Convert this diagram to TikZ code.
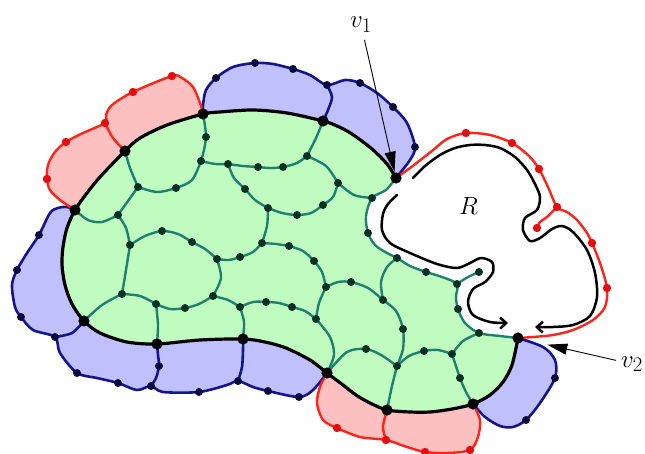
\documentclass[tikz,border=0pt]{standalone}
\usetikzlibrary{arrows.meta}
\definecolor{facegreen}{RGB}{192,252,192}
\definecolor{faceblue}{RGB}{192,192,252}
\definecolor{facepink}{RGB}{252,192,192}
\definecolor{edgeteal}{RGB}{32,128,112}
\definecolor{dotteal}{RGB}{8,48,36}
\definecolor{edgenavy}{RGB}{20,20,140}
\definecolor{dotnavy}{RGB}{10,10,60}
\definecolor{edgered}{RGB}{255,35,25}
\definecolor{dotred}{RGB}{225,15,15}
\tikzset{
  tealedge/.style={draw=edgeteal, line width=2.4pt, line join=round, line cap=round},
  outerblack/.style={draw=black, line width=3.2pt, line join=round},
  navyline/.style={draw=edgenavy, line width=2.6pt, line join=round, line cap=round},
  redline/.style={draw=edgered, line width=2.4pt, line join=round, line cap=round},
  rcurve/.style={draw=black, line width=2.5pt, line cap=round, line join=round,
    -{Straight Barb[length=6pt,width=11pt]}},
  pointer/.style={draw=black, line width=0.9pt, -{Triangle[length=20pt,width=11pt]}},
  lbl/.style={inner sep=0pt, anchor=base west, font=\fontsize{24.88}{30}\selectfont},
}
\begin{document}
\begin{tikzpicture}[x=1pt,y=-1pt]
\useasboundingbox (0,0) rectangle (645,454);

% ---- vertices on the black cycle
\coordinate (vA) at (203,114);  \coordinate (vB) at (323,121);
\coordinate (v1) at (396,178);  \coordinate (vC) at (125,151);
\coordinate (vD) at (75,210);   \coordinate (vE) at (84,321);
\coordinate (vF) at (157,344);  \coordinate (vG) at (243,339);
\coordinate (vH) at (327,373);  \coordinate (vI) at (387,410);
\coordinate (vJ) at (473,404);  \coordinate (v2) at (518,338);

% ---- inner vertices
\coordinate (t1) at (206,137);  \coordinate (t2) at (201,161);
\coordinate (t3) at (176,188);  \coordinate (t4) at (138,187);
\coordinate (t5) at (228,164);  \coordinate (t6) at (258,167);
\coordinate (t7) at (283,167);  \coordinate (t8) at (307,156);
\coordinate (t9) at (245,189);  \coordinate (t10) at (268,208);
\coordinate (t11) at (297,215); \coordinate (t12) at (323,205);
\coordinate (t13) at (338,183); \coordinate (t14) at (372,198);
\coordinate (t15) at (368,233); \coordinate (t16) at (397,258);
\coordinate (t17) at (118,215); \coordinate (t18) at (130,245);
\coordinate (t19) at (162,231); \coordinate (t20) at (192,242);
\coordinate (t21) at (217,259); \coordinate (t22) at (240,257);
\coordinate (t23) at (262,243); \coordinate (t24) at (289,246);
\coordinate (t25) at (314,261); \coordinate (t26) at (326,287);
\coordinate (t27) at (351,282); \coordinate (t28) at (383,300);
\coordinate (t29) at (122,294); \coordinate (t30) at (156,304);
\coordinate (t31) at (185,308); \coordinate (t32) at (213,296);
\coordinate (t33) at (240,307); \coordinate (t34) at (266,302);
\coordinate (t35) at (292,307); \coordinate (t36) at (316,319);
\coordinate (t37) at (366,349); \coordinate (t38) at (397,366);
\coordinate (t39) at (403,329); \coordinate (t40) at (424,351);
\coordinate (t41) at (452,354); \coordinate (t42) at (460,378);
\coordinate (t43) at (479,333); \coordinate (t44) at (458,309);
\coordinate (t45) at (457,284); \coordinate (t46) at (479,272);
\coordinate (t47) at (426,272);

% ---- vertices on the blue walks
\coordinate (b1) at (216,78);   \coordinate (b2) at (255,63);
\coordinate (b3) at (293,69);   \coordinate (bj1) at (327,85);
\coordinate (b4) at (360,83);   \coordinate (b5) at (393,107);
\coordinate (b6) at (415,147);  \coordinate (b7) at (39,235);
\coordinate (b8) at (17,270);   \coordinate (b9) at (21,317);
\coordinate (bj2) at (55,337);  \coordinate (b10) at (77,373);
\coordinate (b11) at (118,383); \coordinate (bj3) at (151,386);
\coordinate (b12) at (159,366); \coordinate (b13) at (199,392);
\coordinate (bj4) at (238,381); \coordinate (b14) at (268,391);
\coordinate (b15) at (299,397); \coordinate (b16) at (526,420);
\coordinate (b17) at (555,378);

% ---- vertices on the red walks
\coordinate (r1) at (172,76);   \coordinate (r2) at (133,92);
\coordinate (rj1) at (105,123); \coordinate (r3) at (66,142);
\coordinate (r4) at (47,179);   \coordinate (r5) at (337,428);
\coordinate (rj2) at (386,440); \coordinate (r6) at (425,452);
\coordinate (r7) at (470,450);  \coordinate (r8) at (466,133);
\coordinate (r9) at (512,143);  \coordinate (r10) at (539,169);
\coordinate (rj3) at (557,207); \coordinate (r11) at (537,228);
\coordinate (r12) at (592,243); \coordinate (r13) at (607,288);

% ---- outer faces (closed through points inside the green disc)
\fill[faceblue] plot[smooth] coordinates {(vA) (203,105) (206,90) (b1) (233,67) (b2) (273,64) (b3) (310,75) (bj1)}
  -- plot[smooth] coordinates {(bj1) (332,97) (328,110) (vB)} -- (300,140) -- (220,140) -- cycle;
\fill[faceblue] plot[smooth] coordinates {(bj1) (345,80) (b4) (377,93) (b5) (407,123) (b6) (410,160) (400,173) (v1)}
  -- (360,160) -- (vB) -- (328,110) -- (332,97) -- cycle;
\fill[faceblue] plot[smooth] coordinates {(vD) (67,207) (58,208) (50,213) (b7) (27,253) (b8) (12,285) (15,307) (b9) (33,330) (bj2)}
  -- plot[smooth] coordinates {(bj2) (72,333) (vE)} -- (100,270) -- cycle;
\fill[faceblue] plot[smooth] coordinates {(bj2) (60,353) (b10) (97,378) (b11) (137,390) (bj3)}
  -- plot[smooth] coordinates {(bj3) (156,378) (b12) (158,355) (vF)} -- (120,320) -- (vE) -- (72,333) -- cycle;
\fill[faceblue] plot[smooth] coordinates {(bj3) (163,392) (b13) (227,385) (bj4)}
  -- plot[smooth] coordinates {(bj4) (242,367) (243,350) (vG)} -- (200,320) -- (vF) -- (158,355) -- (b12) -- cycle;
\fill[faceblue] plot[smooth] coordinates {(bj4) (253,387) (b14) (b15) (313,390) (vH)}
  -- (290,330) -- (vG) -- (243,350) -- (242,367) -- cycle;
\fill[faceblue] plot[smooth] coordinates {(vJ) (485,417) (500,426) (513,427) (b16) (540,403) (b17) (555,360) (543,347) (v2)}
  -- (490,370) -- cycle;
\fill[facepink] plot[smooth] coordinates {(vA) (200,103) (193,87) (182,78) (r1) (r2) (112,105) (106,115) (rj1)}
  -- plot[smooth] coordinates {(rj1) (113,138) (vC)} -- (170,150) -- cycle;
\fill[facepink] plot[smooth] coordinates {(rj1) (83,133) (r3) (55,152) (48,165) (r4) (50,190) (60,200) (vD)}
  -- (110,190) -- (vC) -- (113,138) -- cycle;
\fill[facepink] plot[smooth] coordinates {(vH) (320,387) (317,403) (323,420) (r5) (360,437) (rj2)}
  -- plot[smooth] coordinates {(rj2) (383,427) (vI)} -- (350,370) -- cycle;
\fill[facepink] plot[smooth] coordinates {(rj2) (407,447) (r6) (447,453) (r7) (478,437) (480,420) (vJ)}
  -- (430,390) -- (vI) -- (383,427) -- cycle;

% ---- the green disc
\fill[facegreen] plot[smooth] coordinates {(v1) (387,164) (372,149) (352,134) (337,126) (vB) (287,113) (253,110) (220,112) (vA)
    (167,125) (140,138) (vC) (100,177) (87,193) (vD) (67,228) (63,247) (62,265) (65,285) (72,304) (vE)
    (100,333) (127,342) (vF) (200,340) (vG) (265,342) (286,348) (310,360) (vH) (343,385) (356,395) (370,403) (vI)
    (410,412) (430,412) (452,409) (vJ) (490,395) (503,382) (512,365) (v2)}
  -- plot[smooth] coordinates {(v2) (500,336) (t43) (465,323) (t44) (456,297) (t45) (442,277) (t47) (410,266) (t16)
    (387,253) (375,245) (t15) (366,216) (t14) (386,190) (v1)} -- cycle;

% ---- inner edges
\draw[tealedge] plot[smooth] coordinates {(vA) (205,126) (t1) (204,150) (t2)};
\draw[tealedge] plot[smooth] coordinates {(t2) (192,180) (t3) (157,192) (t4)};
\draw[tealedge] plot[smooth] coordinates {(t4) (130,168) (vC)};
\draw[tealedge] plot[smooth] coordinates {(t4) (128,201) (t17)};
\draw[tealedge] plot[smooth] coordinates {(vD) (88,220) (102,222) (t17)};
\draw[tealedge] plot[smooth] coordinates {(t17) (126,228) (t18)};
\draw[tealedge] plot[smooth] coordinates {(t18) (126,270) (t29)};
\draw[tealedge] plot[smooth] coordinates {(t18) (145,236) (t19) (178,234) (t20) (205,249) (t21)};
\draw[tealedge] plot[smooth] coordinates {(t21) (229,260) (t22) (253,252) (t23)};
\draw[tealedge] plot[smooth] coordinates {(t23) (276,244) (t24)};
\draw[tealedge] plot[smooth] coordinates {(t23) (267,226) (t10)};
\draw[tealedge] plot[smooth] coordinates {(t10) (255,200) (t9) (234,178) (t5)};
\draw[tealedge] plot[smooth] coordinates {(t2) (215,164) (t5)};
\draw[tealedge] plot[smooth] coordinates {(t5) (243,166) (t6) (270,168) (t7) (297,163) (t8)};
\draw[tealedge] plot[smooth] coordinates {(t8) (316,138) (vB)};
\draw[tealedge] plot[smooth] coordinates {(t8) (326,166) (t13)};
\draw[tealedge] plot[smooth] coordinates {(t13) (333,197) (t12) (311,213) (t11) (282,213) (t10)};
\draw[tealedge] plot[smooth] coordinates {(t13) (354,195) (t14)};
\draw[tealedge] plot[smooth] coordinates {(t16) (387,267) (381,282) (t28)};
\draw[tealedge] plot[smooth] coordinates {(t45) (468,277) (t46)};
\draw[tealedge] plot[smooth] coordinates {(t24) (303,251) (t25) (322,272) (t26)};
\draw[tealedge] plot[smooth] coordinates {(t26) (338,282) (t27) (368,288) (t28)};
\draw[tealedge] plot[smooth] coordinates {(t26) (319,303) (t36)};
\draw[tealedge] plot[smooth] coordinates {(t35) (305,311) (t36)};
\draw[tealedge] plot[smooth] coordinates {(t36) (330,337) (334,355) (vH)};
\draw[tealedge] plot[smooth] coordinates {(t21) (221,278) (t32)};
\draw[tealedge] plot[smooth] coordinates {(t32) (199,304) (t31) (170,309) (t30)};
\draw[tealedge] plot[smooth] coordinates {(t30) (140,296) (t29)};
\draw[tealedge] plot[smooth] coordinates {(t29) (102,305) (vE)};
\draw[tealedge] plot[smooth] coordinates {(t30) (158,325) (vF)};
\draw[tealedge] plot[smooth] coordinates {(t32) (228,300) (t33)};
\draw[tealedge] plot[smooth] coordinates {(t33) (244,322) (vG)};
\draw[tealedge] plot[smooth] coordinates {(t33) (253,302) (t34) (279,303) (t35)};
\draw[tealedge] plot[smooth] coordinates {(vH) (347,352) (t37) (381,355) (t38)};
\draw[tealedge] plot[smooth] coordinates {(t28) (396,311) (t39) (403,349) (t38)};
\draw[tealedge] plot[smooth] coordinates {(t38) (392,386) (vI)};
\draw[tealedge] plot[smooth] coordinates {(t38) (409,356) (t40) (438,350) (t41)};
\draw[tealedge] plot[smooth] coordinates {(t41) (463,341) (t43)};
\draw[tealedge] plot[smooth] coordinates {(t41) (t42) (466,392) (vJ)};
\draw[tealedge] plot[smooth] coordinates {(v1) (386,190) (t14) (366,216) (t15) (375,245) (387,253) (t16) (410,266) (t47)
    (442,277) (t45) (456,297) (t44) (465,323) (t43) (500,336) (v2)};

% ---- the black cycle
\draw[outerblack] plot[smooth] coordinates {(v1) (387,164) (372,149) (352,134) (337,126) (vB) (287,113) (253,110) (220,112) (vA)
    (167,125) (140,138) (vC) (100,177) (87,193) (vD) (67,228) (63,247) (62,265) (65,285) (72,304) (vE)
    (100,333) (127,342) (vF) (200,340) (vG) (265,342) (286,348) (310,360) (vH) (343,385) (356,395) (370,403) (vI)
    (410,412) (430,412) (452,409) (vJ) (490,395) (503,382) (512,365) (v2)};

% ---- blue walks
\draw[navyline] plot[smooth] coordinates {(vA) (203,105) (206,90) (b1) (233,67) (b2) (273,64) (b3) (310,75) (bj1)
    (345,80) (b4) (377,93) (b5) (407,123) (b6) (410,160) (400,173) (v1)};
\draw[navyline] plot[smooth] coordinates {(bj1) (332,97) (328,110) (vB)};
\draw[navyline] plot[smooth] coordinates {(vD) (67,207) (58,208) (50,213) (b7) (27,253) (b8) (12,285) (15,307) (b9) (33,330) (bj2)
    (60,353) (b10) (97,378) (b11) (137,390) (bj3) (163,392) (b13) (227,385) (bj4) (253,387) (b14) (b15) (313,390) (vH)};
\draw[navyline] plot[smooth] coordinates {(bj2) (72,333) (vE)};
\draw[navyline] plot[smooth] coordinates {(bj3) (156,378) (b12) (158,355) (vF)};
\draw[navyline] plot[smooth] coordinates {(bj4) (242,367) (243,350) (vG)};
\draw[navyline] plot[smooth] coordinates {(vJ) (485,417) (500,426) (513,427) (b16) (540,403) (b17) (555,360) (543,347) (v2)};

% ---- red walks
\draw[redline] plot[smooth] coordinates {(vA) (200,103) (193,87) (182,78) (r1) (r2) (112,105) (106,115) (rj1)
    (83,133) (r3) (55,152) (48,165) (r4) (50,190) (60,200) (vD)};
\draw[redline] plot[smooth] coordinates {(rj1) (113,138) (vC)};
\draw[redline] plot[smooth] coordinates {(vH) (320,387) (317,403) (323,420) (r5) (360,437) (rj2)
    (407,447) (r6) (447,453) (r7) (478,437) (480,420) (vJ)};
\draw[redline] plot[smooth] coordinates {(rj2) (383,427) (vI)};
\draw[redline] plot[smooth] coordinates {(v1) (410,168) (432,151) (447,139) (r8) (490,135) (r9) (529,156) (r10) (548,187) (rj3)
    (567,212) (577,220) (587,233) (r12) (600,263) (r13) (605,307) (593,320) (573,330) (553,335) (533,337) (v2)};
\draw[redline] plot[smooth] coordinates {(rj3) (547,217) (540,222) (r11)};

% ---- the curve around R
\draw[rcurve] plot[smooth] coordinates {(413,178) (425,166) (440,155) (455,148) (470,145) (485,145) (500,148) (515,157)
    (527,170) (535,184) (540,197) (537,210) (525,218) (523,230) (530,241) (540,238) (552,229) (562,226) (573,232)
    (587,250) (595,273) (597,297) (590,316) (573,325) (553,327) (535,327)};
\draw[rcurve] plot[smooth] coordinates {(397,195) (388,204) (383,214) (382,230) (390,243) (410,253) (437,264) (457,268)
    (470,263) (481,258) (492,262) (493,272) (485,282) (473,289) (468,302) (473,315) (490,322) (508,323)};

% ---- vertex dots
\foreach \p in {t1,t2,t3,t4,t5,t6,t7,t8,t9,t10,t11,t12,t13,t14,t15,t16,t17,t18,t19,t20,t21,t22,t23,t24,
    t25,t26,t27,t28,t29,t30,t31,t32,t33,t34,t35,t36,t37,t38,t39,t40,t41,t42,t43,t44,t45,t46,t47}
  \fill[dotteal] (\p) circle (4pt);
\foreach \p in {b1,b2,b3,bj1,b4,b5,b6,b7,b8,b9,bj2,b10,b11,bj3,b12,b13,bj4,b14,b15,b16,b17}
  \fill[dotnavy] (\p) circle (4pt);
\foreach \p in {r1,r2,rj1,r3,r4,r5,rj2,r6,r7,r8,r9,r10,rj3,r11,r12,r13}
  \fill[dotred] (\p) circle (4.2pt);
\foreach \p in {vA,vB,v1,vC,vD,vE,vF,vG,vH,vI,vJ,v2}
  \fill[black] (\p) circle (5.6pt);

% ---- labels
\node[lbl] (lv1) at (350,28) {$v_1$};
\node[lbl] (lv2) at (621,367) {$v_2$};
\node[lbl] (lR) at (459,215) {$R$};
\draw[pointer, shorten <=7pt, shorten >=6.5pt] (lv1) -- (v1);
\draw[pointer, shorten <=5pt, shorten >=30pt] (lv2) -- (v2);
\end{tikzpicture}
\end{document}
